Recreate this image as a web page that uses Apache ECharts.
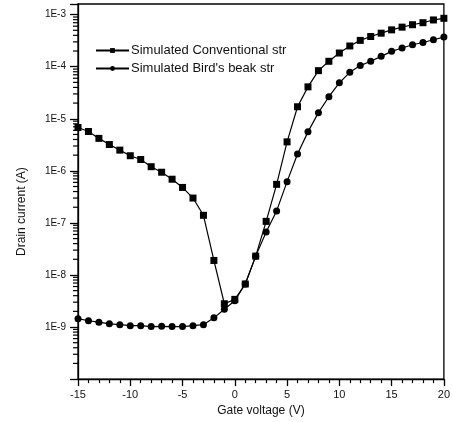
<!DOCTYPE html>
<html>
<head>
<meta charset="utf-8">
<script src="https://cdn.jsdelivr.net/npm/echarts@6/dist/echarts.min.js"></script>
<style>
  html, body { margin: 0; padding: 0; background: #fff; }
  #chart { width: 453px; height: 422px; }
</style>
</head>
<body>
<div id="chart"></div>
<script>
// Gate voltage sweep (V)
const gateVoltage = [-15, -14, -13, -12, -11, -10, -9, -8, -7, -6, -5, -4, -3, -2, -1, 0,
  1, 2, 3, 4, 5, 6, 7, 8, 9, 10, 11, 12, 13, 14, 15, 16, 17, 18, 19, 20];

// Drain current (A), conventional structure
const conventionalCurrent = [6.8e-6, 5.7e-6, 4.2e-6, 3.2e-6, 2.5e-6, 1.95e-6, 1.65e-6, 1.2e-6,
  9.4e-7, 6.9e-7, 4.8e-7, 3.0e-7, 1.4e-7, 1.9e-8, 2.8e-9, 3.4e-9,
  6.7e-9, 2.3e-8, 1.07e-7, 5.5e-7, 3.6e-6, 1.7e-5, 4.1e-5, 8.4e-5, 1.27e-4, 1.83e-4,
  2.5e-4, 3.2e-4, 3.8e-4, 4.4e-4, 5.1e-4, 5.75e-4, 6.4e-4, 7.0e-4, 7.9e-4, 8.5e-4];

// Drain current (A), bird's beak structure
const birdsBeakCurrent = [1.45e-9, 1.32e-9, 1.24e-9, 1.15e-9, 1.11e-9, 1.06e-9, 1.06e-9, 1.02e-9,
  1.03e-9, 1.02e-9, 1.02e-9, 1.06e-9, 1.11e-9, 1.5e-9, 2.2e-9, 3.2e-9,
  6.7e-9, 2.3e-8, 6.7e-8, 1.7e-7, 6.2e-7, 2.1e-6, 5.6e-6, 1.31e-5, 2.65e-5, 4.9e-5,
  7.8e-5, 1.05e-4, 1.27e-4, 1.58e-4, 1.97e-4, 2.29e-4, 2.64e-4, 2.92e-4, 3.29e-4, 3.7e-4];

const seriesNames = ['Simulated Conventional str', "Simulated Bird's beak str"];

// Axis ranges and tick labels
const xTicks = [-15, -10, -5, 0, 5, 10, 15, 20];
const yTickLabels = ['1E-3', '1E-4', '1E-5', '1E-6', '1E-7', '1E-8', '1E-9'];
const yMin = 1e-10;
const yMax = 1.6e-3;

const FONT = '"Liberation Sans", Arial, sans-serif';

// Log-distributed minor ticks (2..9 x 10^n) for the current axis
const yMinorTicks = [];
for (let e = -10; e <= -3; e++) {
  for (let k = 2; k <= 9; k++) {
    const v = k * Math.pow(10, e);
    if (v > yMin && v < yMax) yMinorTicks.push(v);
  }
}

const pairs = (ys) => gateVoltage.map((x, i) => [x, ys[i]]);

const chart = echarts.init(document.getElementById('chart'), null, { renderer: 'canvas' });

chart.setOption({
  animation: false,
  backgroundColor: '#fff',
  textStyle: { fontFamily: FONT, color: '#111' },
  grid: {
    left: 78, right: 5, top: 4, bottom: 42,
    show: true, borderColor: '#000', borderWidth: 1.3, backgroundColor: 'transparent'
  },
  legend: {
    data: seriesNames,
    orient: 'vertical',
    left: 95, top: 44, padding: 0,
    itemWidth: 33, itemHeight: 6, itemGap: 5,
    textStyle: { fontFamily: FONT, fontSize: 13, color: '#111', padding: [0, 0, 0, -3] },
    inactiveColor: '#000'
  },
  xAxis: {
    type: 'value',
    min: -15, max: 20, interval: 5,
    name: 'Gate voltage (V)',
    nameLocation: 'middle', nameGap: 24,
    nameTextStyle: { fontFamily: FONT, fontSize: 12, color: '#111' },
    axisLine: { onZero: false, lineStyle: { color: '#000', width: 1.3 } },
    axisTick: { inside: false, length: 7, lineStyle: { color: '#000', width: 1.3 } },
    minorTick: { show: true, splitNumber: 5, length: 4, lineStyle: { color: '#000', width: 1.2 } },
    splitLine: { show: false },
    axisLabel: {
      margin: 10, fontSize: 11, color: '#111', fontFamily: FONT,
      formatter: (v) => (xTicks.includes(v) ? String(v) : '')
    }
  },
  yAxis: {
    type: 'log', logBase: 10,
    min: yMin, max: yMax,
    name: 'Drain current (A)',
    nameLocation: 'middle', nameGap: 50,
    nameTextStyle: { fontFamily: FONT, fontSize: 12, color: '#111', padding: [0, 40, 0, 0] },
    axisLine: { onZero: false, lineStyle: { color: '#000', width: 1.3 } },
    axisTick: { inside: false, length: 8, lineStyle: { color: '#000', width: 1.3 } },
    splitLine: { show: false },
    axisLabel: {
      margin: 12, fontSize: 10, color: '#111', fontFamily: FONT,
      formatter: (v) => {
        const e = Math.round(Math.log10(v));
        if (Math.abs(Math.log10(v) - e) > 1e-6) return '';
        const label = '1E' + e;
        return yTickLabels.includes(label) ? label : '';
      }
    }
  },
  series: [
    {
      name: seriesNames[0],
      type: 'line',
      data: pairs(conventionalCurrent),
      symbol: 'rect', symbolSize: 7,
      lineStyle: { color: '#000', width: 1.2 },
      itemStyle: { color: '#000' },
      z: 3
    },
    {
      name: seriesNames[1],
      type: 'line',
      data: pairs(birdsBeakCurrent),
      symbol: 'circle', symbolSize: 7,
      lineStyle: { color: '#000', width: 1.2 },
      itemStyle: { color: '#000' },
      z: 3
    },
    {
      // minor ticks along the left current axis
      type: 'custom',
      name: 'yMinor',
      clip: false,
      silent: true,
      data: yMinorTicks.map((v) => [-15, v]),
      renderItem: (params, api) => {
        const p = api.coord([api.value(0), api.value(1)]);
        return {
          type: 'line',
          shape: { x1: p[0] - 5, y1: p[1], x2: p[0], y2: p[1] },
          style: { stroke: '#000', lineWidth: 1.2 }
        };
      },
      z: 2
    }
  ]
});
</script>
</body>
</html>
